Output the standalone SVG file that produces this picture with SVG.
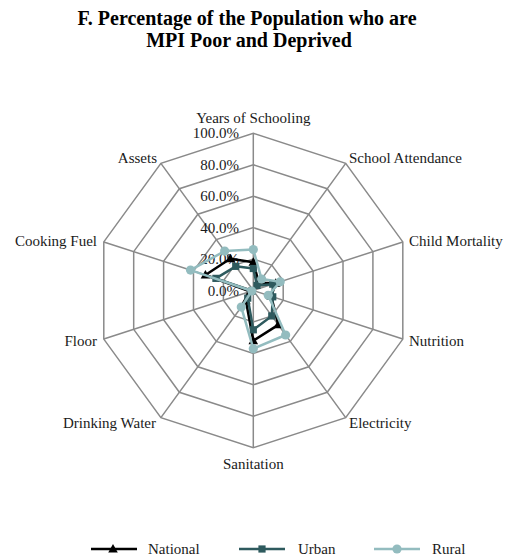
<svg xmlns="http://www.w3.org/2000/svg" xmlns:xlink="http://www.w3.org/1999/xlink" width="512" height="560" viewBox="0 0 512 560">
<style>
.t{font-family:"Liberation Serif","DejaVu Serif",serif;font-size:15px;fill:#1a1a1a}
.title{font-family:"Liberation Serif","DejaVu Serif",serif;font-size:20px;font-weight:bold;fill:#000;text-anchor:middle}
.grid{fill:none;stroke:#8a8a8a;stroke-width:1.5}
.nat{fill:none;stroke:#000;stroke-width:2.5;stroke-linejoin:round}
.urb{fill:none;stroke:#2e5a5e;stroke-width:2.5;stroke-linejoin:round}
.rur{fill:none;stroke:#93bcbf;stroke-width:2.5;stroke-linejoin:round}
.mn{fill:#000}.mu{fill:#2e5a5e}.mr{fill:#93bcbf}
</style>
<defs>
<path id="tri" d="M0,-5 L4.8,3.5 L-4.8,3.5Z"/>
<rect id="sq" x="-3.6" y="-3.6" width="7.2" height="7.2"/>
<circle id="dot" r="4.6"/>
</defs>
<rect width="512" height="560" fill="#fff"/>
<g id="title">
<text class="title" x="247" y="25">F. Percentage of the Population who are</text>
<text class="title" x="249" y="47">MPI Poor and Deprived</text>
</g>
<g id="grid" transform="translate(253.3,290.5)">
<polygon class="grid" points="0,-157.2 92.4,-127.17 149.51,-48.57 149.51,48.57 92.4,127.17 0,157.2 -92.4,127.17 -149.51,48.57 -149.51,-48.57 -92.4,-127.17"/>
<polygon class="grid" points="0,-125.76 73.92,-101.74 119.61,-38.86 119.61,38.86 73.92,101.74 0,125.76 -73.92,101.74 -119.61,38.86 -119.61,-38.86 -73.92,-101.74"/>
<polygon class="grid" points="0,-94.32 55.44,-76.31 89.71,-29.15 89.71,29.15 55.44,76.31 0,94.32 -55.44,76.31 -89.71,29.15 -89.71,-29.15 -55.44,-76.31"/>
<polygon class="grid" points="0,-62.88 36.96,-50.87 59.81,-19.43 59.81,19.43 36.96,50.87 0,62.88 -36.96,50.87 -59.81,19.43 -59.81,-19.43 -36.96,-50.87"/>
<polygon class="grid" points="0,-31.44 18.48,-25.44 29.9,-9.72 29.9,9.72 18.48,25.44 0,31.44 -18.48,25.44 -29.9,9.72 -29.9,-9.72 -18.48,-25.44"/>
<path class="grid" d="M0,0L0,-157.2M0,0L92.4,-127.17M0,0L149.51,-48.57M0,0L149.51,48.57M0,0L92.4,127.17M0,0L0,157.2M0,0L-92.4,127.17M0,0L-149.51,48.57M0,0L-149.51,-48.57M0,0L-92.4,-127.17"/>
</g>
<g id="scale" class="t" text-anchor="end">
<text x="239" y="138">100.0%</text>
<text x="239" y="169.5">80.0%</text>
<text x="239" y="201">60.0%</text>
<text x="239" y="232.5">40.0%</text>
<text x="239" y="264">20.0%</text>
<text x="239" y="295.5">0.0%</text>
</g>
<g id="axis-labels" class="t">
<text id="lbl-years" x="253.3" y="123" text-anchor="middle">Years of Schooling</text>
<text id="lbl-school" x="349" y="163">School Attendance</text>
<text id="lbl-child" x="409" y="246">Child Mortality</text>
<text id="lbl-nutrition" x="409" y="346">Nutrition</text>
<text id="lbl-electricity" x="349" y="428">Electricity</text>
<text id="lbl-sanitation" x="253.3" y="469" text-anchor="middle">Sanitation</text>
<text id="lbl-water" x="156" y="428" text-anchor="end">Drinking Water</text>
<text id="lbl-floor" x="97" y="346" text-anchor="end">Floor</text>
<text id="lbl-cooking" x="97" y="246" text-anchor="end">Cooking Fuel</text>
<text id="lbl-assets" x="157" y="163" text-anchor="end">Assets</text>
</g>
<g id="series" transform="translate(253.3,290.5)">
<g id="national">
<polygon class="nat" points="0,-28.3 5.54,-7.63 22.43,-7.29 17.94,5.83 24.95,34.34 0,50.3 -7.39,10.18 -2.99,0.97 -47.84,-15.54 -23.1,-31.79"/>
<g class="mn">
<use xlink:href="#tri" x="0" y="-28.3"/><use xlink:href="#tri" x="5.54" y="-7.63"/><use xlink:href="#tri" x="22.43" y="-7.29"/><use xlink:href="#tri" x="17.94" y="5.83"/><use xlink:href="#tri" x="24.95" y="34.34"/><use xlink:href="#tri" x="0" y="50.3"/><use xlink:href="#tri" x="-7.39" y="10.18"/><use xlink:href="#tri" x="-2.99" y="0.97"/><use xlink:href="#tri" x="-47.84" y="-15.54"/><use xlink:href="#tri" x="-23.1" y="-31.79"/>
</g>
</g>
<g id="urban">
<polygon class="urb" points="0,-22 3.7,-5.09 19.44,-6.32 19.44,6.32 18.48,25.44 0,39.3 -5.54,7.63 -1.5,0.49 -37.38,-12.14 -17.56,-24.16"/>
<g class="mu">
<use xlink:href="#sq" x="0" y="-22"/><use xlink:href="#sq" x="3.7" y="-5.09"/><use xlink:href="#sq" x="19.44" y="-6.32"/><use xlink:href="#sq" x="19.44" y="6.32"/><use xlink:href="#sq" x="18.48" y="25.44"/><use xlink:href="#sq" x="0" y="39.3"/><use xlink:href="#sq" x="-5.54" y="7.63"/><use xlink:href="#sq" x="-1.5" y="0.49"/><use xlink:href="#sq" x="-37.38" y="-12.14"/><use xlink:href="#sq" x="-17.56" y="-24.16"/>
</g>
</g>
<g id="rural">
<polygon class="rur" points="0,-40.9 8.32,-11.45 26.92,-8.74 14.95,4.86 32.34,44.51 0,58.16 -12.01,16.53 -1.5,0.49 -62.79,-20.4 -28.64,-39.42"/>
<g class="mr">
<use xlink:href="#dot" x="0" y="-40.9"/><use xlink:href="#dot" x="8.32" y="-11.45"/><use xlink:href="#dot" x="26.92" y="-8.74"/><use xlink:href="#dot" x="14.95" y="4.86"/><use xlink:href="#dot" x="32.34" y="44.51"/><use xlink:href="#dot" x="0" y="58.16"/><use xlink:href="#dot" x="-12.01" y="16.53"/><use xlink:href="#dot" x="-1.5" y="0.49"/><use xlink:href="#dot" x="-62.79" y="-20.4"/><use xlink:href="#dot" x="-28.64" y="-39.42"/>
</g>
</g>
</g>
<g id="legend">
<g id="leg-national"><line x1="91" y1="549" x2="137" y2="549" stroke="#000" stroke-width="2.5"/><use xlink:href="#tri" x="113" y="549" class="mn"/><text class="t" x="148" y="554">National</text></g>
<g id="leg-urban"><line x1="239" y1="549" x2="285" y2="549" stroke="#2e5a5e" stroke-width="2.5"/><use xlink:href="#sq" x="262" y="549" class="mu"/><text class="t" x="298" y="554">Urban</text></g>
<g id="leg-rural"><line x1="374" y1="549" x2="420" y2="549" stroke="#93bcbf" stroke-width="2.5"/><use xlink:href="#dot" x="397" y="549" class="mr"/><text class="t" x="432" y="554">Rural</text></g>
</g>
</svg>
